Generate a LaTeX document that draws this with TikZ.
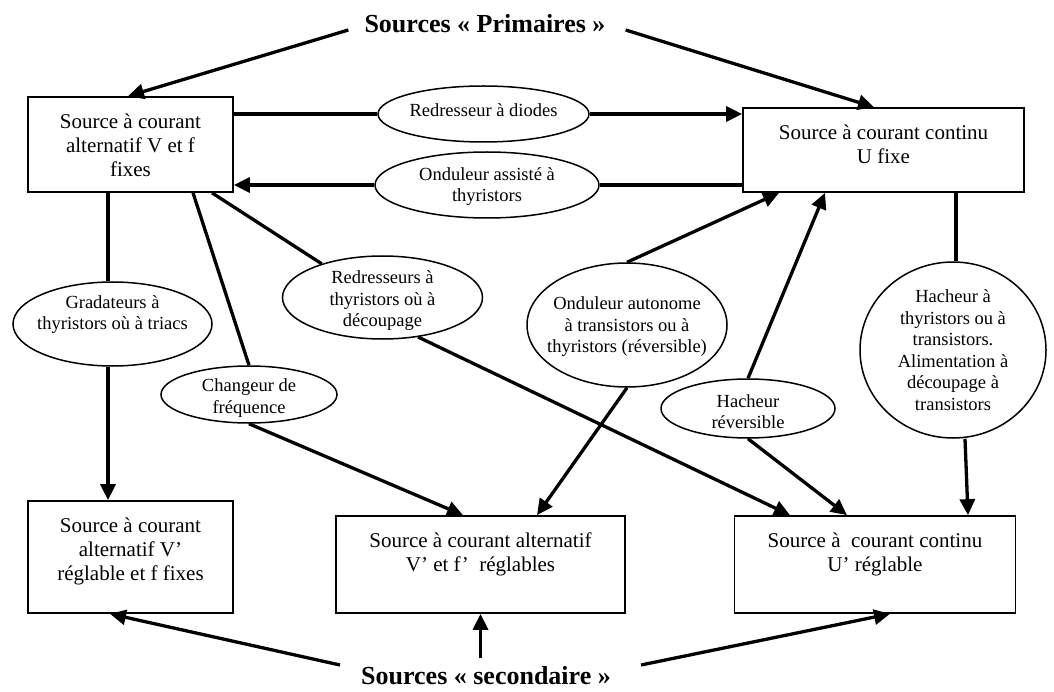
\documentclass[tikz,border=0pt]{standalone}
\usepackage{fontspec}
\setmainfont{Liberation Serif}
\usetikzlibrary{shapes.geometric,arrows.meta}
\newcommand{\boxtxt}[3]{\begin{minipage}[c][#2][t]{#1}\centering\vspace*{14.5pt}\strut #3\end{minipage}}
\begin{document}
\begin{tikzpicture}[x=1pt,y=-1pt,
  box/.style={draw, line width=1.7pt, inner sep=0pt, font=\fontsize{21}{24}\selectfont},
  ell/.style={draw, ellipse, line width=1.5pt, inner sep=0pt},
  lab/.style={align=center, inner sep=0pt, font=\fontsize{18.5}{21.5}\selectfont},
  title/.style={inner sep=0pt, font=\bfseries\fontsize{26}{30}\selectfont},
  conn/.style={line width=3.3pt},
  arr/.style={line width=3.3pt, -{Triangle[length=16pt,width=15pt]}}]
\useasboundingbox (0,0) rectangle (1054,692);
% titles
\node[title] (P) at (485,24) {Sources « Primaires »};
\node[title] (S) at (486,676) {Sources « secondaire »};
% boxes
\node[box, minimum width=205pt, minimum height=95pt] (A) at (130.5,144.5)
  {\boxtxt{205pt}{95pt}{Source à courant\\alternatif V et f\\fixes}};
\node[box, minimum width=281pt, minimum height=84pt] (B) at (883.5,150)
  {\boxtxt{281pt}{84pt}{Source à courant continu\\U fixe}};
\node[box, minimum width=205pt, minimum height=112pt] (C) at (130.5,557)
  {\boxtxt{205pt}{112pt}{Source à courant\\alternatif V’\\réglable et f fixes}};
\node[box, minimum width=289pt, minimum height=97pt] (D) at (480.5,564.5)
  {\boxtxt{289pt}{97pt}{Source à courant alternatif\\V’ et f’~ réglables}};
\node[box, minimum width=281pt, minimum height=97pt] (E) at (875,564.5)
  {\boxtxt{281pt}{97pt}{Source à~ courant continu\\U’ réglable}};
% ellipses
\node[ell, minimum width=211pt, minimum height=56pt] (e1) at (483.5,114) {};
\node[lab] (t1) at ([yshift=4pt]e1.center) {Redresseur à diodes};
\node[ell, minimum width=224pt, minimum height=66pt] (e2) at (487,185) {};
\node[lab] (t2) at ([yshift=-1.5pt]e2.center) {Onduleur assisté à\\thyristors};
\node[ell, minimum width=199pt, minimum height=84pt] (e3) at (112.5,324) {};
\node[lab] (t3) at ([yshift=9.5pt]e3.center) {Gradateurs à\\thyristors où à triacs};
\node[ell, minimum width=176pt, minimum height=57pt] (e4) at (249,394.5) {};
\begin{scope}
\clip (249,394.5) ellipse [x radius=88pt, y radius=28.5pt];
\node[lab] (t4) at ([yshift=-3.5pt]e4.center) {Changeur de\\fréquence};
\end{scope}
\node[ell, minimum width=200pt, minimum height=83pt] (e5) at (382.5,297.5) {};
\node[lab] (t5) at ([yshift=-3.5pt]e5.center) {Redresseurs à\\thyristors où à\\découpage};
\node[ell, minimum width=200pt, minimum height=124pt] (e6) at (627,325) {};
\node[lab] (t6) at ([yshift=-2pt]e6.center) {Onduleur autonome\\ à transistors ou à\\thyristors (réversible)};
\node[ell, minimum width=174pt, minimum height=59pt] (e7) at (748,408.5) {};
\node[lab] (t7) at ([yshift=-3pt]e7.center) {Hacheur\\réversible};
\node[ell, minimum width=186pt, minimum height=176pt] (e8) at (953,350) {};
\node[lab] (t8) at (e8.center) {Hacheur à\\thyristors ou à\\transistors.\\Alimentation à\\découpage à\\transistors};
% connectors
\draw[arr] ([xshift=-16pt,yshift=-6pt]P.west) -- ([xshift=-2.5pt]A.north);
\draw[arr] ([xshift=20pt,yshift=-6pt]P.east) -- ([xshift=-9.5pt]B.north);
\draw[conn] ([yshift=30.5pt]A.east) -- (e1.west);
\draw[arr] (e1.east) -- ([yshift=36pt]B.west);
\draw[conn] ([yshift=-35pt]B.west) -- (e2.east);
\draw[arr] (e2.west) -- ([yshift=-40.5pt]A.east);
\draw[conn] ([xshift=-22.5pt]A.south) -- ([xshift=-4.5pt]e3.north);
\draw[arr] ([xshift=-4.5pt]e3.south) -- ([xshift=-22.5pt]C.north);
\draw[conn] ([xshift=62.5pt]A.south) -- (e4.north);
\draw[arr] (e4.south) -- ([xshift=-17.5pt]D.north);
\draw[conn] ([xshift=81.5pt]A.south) -- (e5.151);
\draw[arr] (e5.-48) -- ([xshift=-85pt]E.north);
\draw[arr] (e6.north) -- ([xshift=-104.5pt]B.south);
\draw[arr] (e6.south) -- ([xshift=56.5pt]D.north);
\draw[arr] (e7.north) -- ([xshift=-58.5pt]B.south);
\draw[arr] (e7.south) -- ([xshift=-28pt]E.north);
\draw[conn] ([xshift=72.5pt]B.south) -- ([xshift=3pt]e8.north);
\draw[arr] ([xshift=12pt]e8.south) -- ([xshift=93pt]E.north);
\draw[arr] ([xshift=-21pt,yshift=11pt]S.west) -- ([xshift=-20.5pt]C.south);
\draw[arr] ([xshift=-5.5pt,yshift=9pt]S.north) -- (D.south);
\draw[arr] ([xshift=30pt,yshift=11pt]S.east) -- ([xshift=15pt]E.south);
\end{tikzpicture}
\end{document}
